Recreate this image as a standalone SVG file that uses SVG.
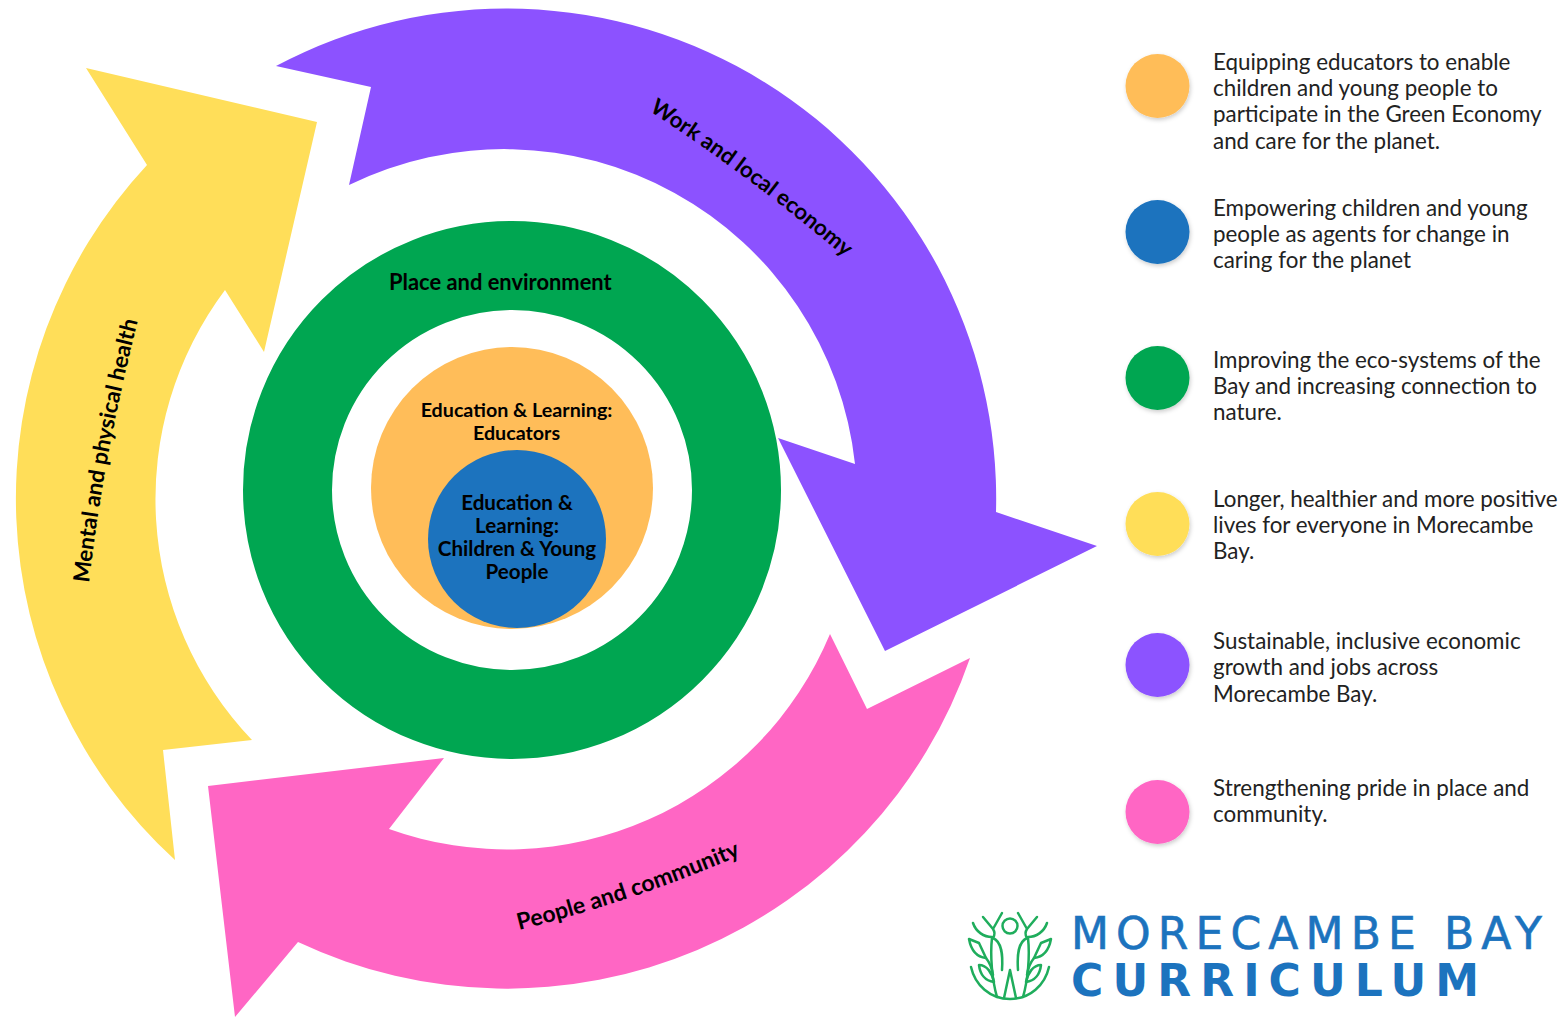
<svg xmlns="http://www.w3.org/2000/svg" width="1563" height="1017" viewBox="0 0 1563 1017">
<defs>
<filter id="sh" x="-20%" y="-20%" width="140%" height="140%"><feDropShadow dx="1" dy="2" stdDeviation="2" flood-color="#000" flood-opacity=".2"/></filter>
<path id="pw" d="M649 111Q745 172 860 270" fill="none"/>
<path id="pm" d="M89 583Q104 450 142 305" fill="none"/>
<path id="pp" d="M519 930Q640 900 755 849" fill="none"/>
</defs>
<style>
.b{font-family:"Lato","Liberation Sans",sans-serif;font-weight:700;font-size:21.900px;fill:#000}
.c{font-family:"Lato","Liberation Sans",sans-serif;font-weight:700;font-size:19.700px;fill:#000;text-anchor:middle}
.e{font-size:20.600px}
.w{font-size:22.300px}
.m{font-size:22.500px}
.p{font-size:23px}
.l{font-family:"Lato","Liberation Sans",sans-serif;font-size:22.400px;fill:#222}
.d{filter:url(#sh)}
</style>
<rect width="1563" height="1017" fill="#fff"/>
<g id="connectors">
<path id="arrow-work" fill="#8c52ff" d="M276 66A490 490 0 0 1 996 512L1097 546L885 651L778 438L855 464A353 353 0 0 0 349 185L371 87Z"/>
<path id="arrow-health" fill="#ffde59" d="M86 68L317 122L264 352L225 290A349 349 0 0 0 252 740L163 750L175 860A490 490 0 0 1 147 165Z"/>
<path id="arrow-people" fill="#ff66c4" d="M970 658A490 490 0 0 1 298 942L235 1017L208 786L444 758L389 829A350 350 0 0 0 830 634L867 709Z"/>
</g>
<g id="node-place"><circle cx="512" cy="490" r="224.500" fill="none" stroke="#00a651" stroke-width="89"/><text class="b" x="389" y="290">Place and environment</text></g>
<g id="node-educators"><circle cx="512" cy="488" r="141" fill="#ffbd59"/><text class="c" x="516.500" y="417">Education &amp; Learning:</text><text class="c" x="516.500" y="440">Educators</text></g>
<g id="node-children"><circle cx="517" cy="539" r="89" fill="#1c73be"/><text class="c e" x="517" y="510">Education &amp;</text><text class="c e" x="517" y="533">Learning:</text><text class="c e" x="517" y="556">Children &amp; Young</text><text class="c e" x="517" y="579">People</text></g>
<g id="label-work"><text class="b w"><textPath href="#pw">Work and local economy</textPath></text></g>
<g id="label-health"><text class="b m"><textPath href="#pm">Mental and physical health</textPath></text></g>
<g id="label-people"><text class="b p"><textPath href="#pp">People and community</textPath></text></g>
<g id="legend-1"><circle class="d" cx="1157.500" cy="86" r="32" fill="#ffbd59"/><text class="l" x="1213" y="70">Equipping educators to enable</text><text class="l" x="1213" y="96">children and young people to</text><text class="l" x="1213" y="122">participate in the Green Economy</text><text class="l" x="1213" y="149">and care for the planet.</text></g>
<g id="legend-2"><circle class="d" cx="1157.500" cy="232" r="32" fill="#1c73be"/><text class="l" x="1213" y="216">Empowering children and young</text><text class="l" x="1213" y="242">people as agents for change in</text><text class="l" x="1213" y="268">caring for the planet</text></g>
<g id="legend-3"><circle class="d" cx="1157.500" cy="378" r="32" fill="#00a651"/><text class="l" x="1213" y="368">Improving the eco-systems of the</text><text class="l" x="1213" y="394">Bay and increasing connection to</text><text class="l" x="1213" y="420">nature.</text></g>
<g id="legend-4"><circle class="d" cx="1157.500" cy="524" r="32" fill="#ffde59"/><text class="l" x="1213" y="507">Longer, healthier and more positive</text><text class="l" x="1213" y="533">lives for everyone in Morecambe</text><text class="l" x="1213" y="559">Bay.</text></g>
<g id="legend-5"><circle class="d" cx="1157.500" cy="665" r="32" fill="#8c52ff"/><text class="l" x="1213" y="649">Sustainable, inclusive economic</text><text class="l" x="1213" y="675">growth and jobs across</text><text class="l" x="1213" y="702">Morecambe Bay.</text></g>
<g id="legend-6"><circle class="d" cx="1157.500" cy="812" r="32" fill="#ff66c4"/><text class="l" x="1213" y="796">Strengthening pride in place and</text><text class="l" x="1213" y="822">community.</text></g>
<g id="logo">
<g fill="none" stroke="#1fad5c" stroke-width="2.500" stroke-linecap="round" stroke-linejoin="round">
<circle cx="1010" cy="926" r="7.500"/>
<path d="M971 967C975 985 990 999 1010 999C1030 999 1045 985 1049 967"/>
<path d="M1002 913L993 929M983 917L993 929C995 932 995 935 993 938M973 923C976 932 984 937 992 937"/>
<path d="M1018 913L1027 929M1037 917L1027 929C1025 932 1025 935 1027 938M1047 923C1044 932 1036 937 1028 937"/>
<path d="M993 938C1002 942 1003 955 1002 970M992 938C990 955 992 980 997 997"/>
<path d="M1027 938C1018 942 1017 955 1018 970M1028 938C1030 955 1028 980 1023 997"/>
<path d="M1004 998L1010 970L1016 998"/>
<path d="M969 939L979 943L986 958C977 957 971 950 969 939Z"/>
<path d="M1051 939L1041 943L1034 958C1043 957 1049 950 1051 939Z"/>
<path d="M979 965C987 965 992 973 994 982C985 981 980 974 979 965Z"/>
<path d="M1041 965C1033 965 1028 973 1026 982C1035 981 1040 974 1041 965Z"/>
<path d="M986 958C990 963 992 968 993 975M1034 958C1030 963 1028 968 1027 975"/>
</g>
<text x="1071" y="949" font-family="'DejaVu Sans','Liberation Sans',sans-serif" font-size="44" fill="#1c73be" stroke="#1c73be" stroke-width=".6" textLength="471" lengthAdjust="spacing">MORECAMBE BAY</text>
<text x="1071" y="996" font-family="'DejaVu Sans','Liberation Sans',sans-serif" font-size="44" font-weight="700" fill="#1c73be" textLength="408" lengthAdjust="spacing">CURRICULUM</text>
</g>
</svg>
